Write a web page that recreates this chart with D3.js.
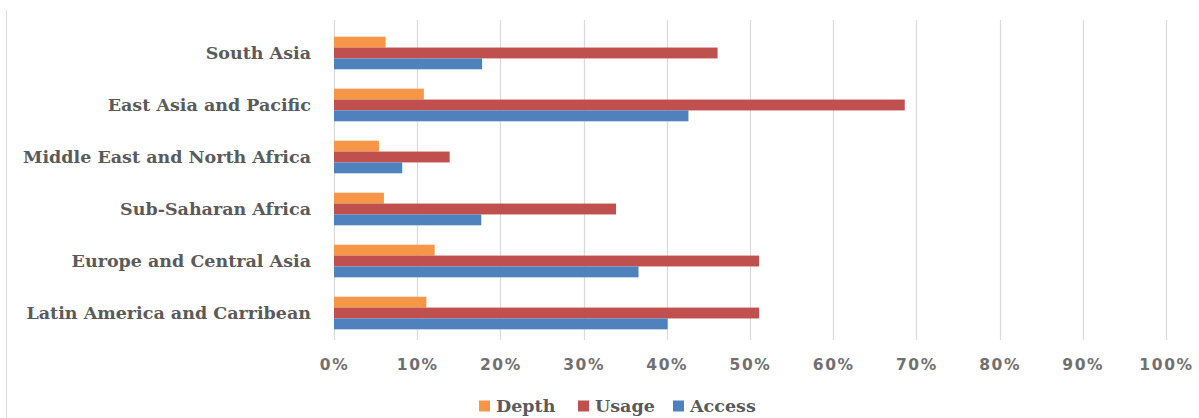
<!DOCTYPE html>
<html>
<head>
<meta charset="utf-8">
<script src="https://cdn.jsdelivr.net/npm/d3@7/dist/d3.min.js"></script>
<style>
  html, body { margin: 0; padding: 0; background: #fff; }
  svg { display: block; }
  .cat { font-family: "DejaVu Serif", serif; font-weight: bold; font-size: 17.5px; fill: #5a5a5a; }
  .tick-label { font-family: "DejaVu Sans", sans-serif; font-weight: bold; font-size: 15.5px; fill: #707070; letter-spacing: 1.6px; }
  .legend-text { font-family: "DejaVu Serif", serif; font-weight: bold; font-size: 17.5px; fill: #5a5a5a; }
</style>
</head>
<body>
<svg id="chart" width="1199" height="418"></svg>
<script>
// Regions, top to bottom
const regions = [
  "South Asia",
  "East Asia and Pacific",
  "Middle East and North Africa",
  "Sub-Saharan Africa",
  "Europe and Central Asia",
  "Latin America and Carribean"
];

// Share of each region (percent)
const depth  = [6.2, 10.8, 5.4, 6.0, 12.1, 11.1];
const usage  = [46.1, 68.6, 13.9, 33.9, 51.1, 51.1];
const access = [17.8, 42.6, 8.2, 17.7, 36.6, 40.1];

const seriesNames = ["Depth", "Usage", "Access"];
const seriesColors = ["#F79646", "#C0504D", "#4F81BD"];
const tickValues = [0, 10, 20, 30, 40, 50, 60, 70, 80, 90, 100];

const series = [depth, usage, access];

const svg = d3.select("#chart");
const W = 1199, H = 418;
const plot = { left: 334, right: 1166, top: 27, bottom: 339 };

const x = d3.scaleLinear().domain([0, 100]).range([plot.left, plot.right]);
const y = d3.scaleBand().domain(regions).range([plot.top, plot.bottom])
  .paddingInner(0.373).paddingOuter(0.186);
const ySub = d3.scaleBand().domain(seriesNames).range([0, y.bandwidth()]);

// Thin frame line at the left edge
svg.append("line")
  .attr("x1", 6.5).attr("x2", 6.5).attr("y1", 10).attr("y2", H)
  .attr("stroke", "#dedede").attr("stroke-width", 1.2);

// Vertical gridlines
svg.append("g").selectAll("line").data(tickValues).join("line")
  .attr("x1", d => Math.round(x(d)) + 0.5)
  .attr("x2", d => Math.round(x(d)) + 0.5)
  .attr("y1", 20).attr("y2", 340)
  .attr("stroke", "#d9d9d9").attr("stroke-width", 1.2);

// Bars
const groups = svg.append("g").selectAll("g").data(regions).join("g")
  .attr("transform", d => `translate(0,${y(d)})`);

groups.selectAll("rect")
  .data((d, i) => seriesNames.map((s, k) => ({ s, k, v: series[k][i] })))
  .join("rect")
  .attr("x", x(0))
  .attr("y", d => ySub(d.s))
  .attr("width", d => x(d.v) - x(0))
  .attr("height", ySub.bandwidth())
  .attr("fill", d => seriesColors[d.k]);

// Category labels
svg.append("g").selectAll("text").data(regions).join("text")
  .attr("class", "cat")
  .attr("x", 311)
  .attr("y", d => y(d) + y.bandwidth() / 2)
  .attr("dy", "0.35em")
  .attr("text-anchor", "end")
  .text(d => d);

// Value axis labels
const xAxis = d3.axisBottom(x).tickValues(tickValues)
  .tickFormat(d => d + "%").tickSize(0).tickPadding(0);
const axisG = svg.append("g").attr("transform", `translate(0,${365})`).call(xAxis);
axisG.select(".domain").remove();
axisG.selectAll("text").attr("class", "tick-label").attr("dy", "0.35em").attr("fill", null);

// Legend
const legendItems = [
  { name: seriesNames[0], color: seriesColors[0], x: 479 },
  { name: seriesNames[1], color: seriesColors[1], x: 578 },
  { name: seriesNames[2], color: seriesColors[2], x: 673 }
];
const lg = svg.append("g").selectAll("g").data(legendItems).join("g")
  .attr("transform", d => `translate(${d.x},406)`);
lg.append("rect").attr("x", 0).attr("y", -5.5).attr("width", 11).attr("height", 11)
  .attr("fill", d => d.color);
lg.append("text").attr("class", "legend-text").attr("x", 17).attr("dy", "0.35em")
  .text(d => d.name);
</script>
</body>
</html>
